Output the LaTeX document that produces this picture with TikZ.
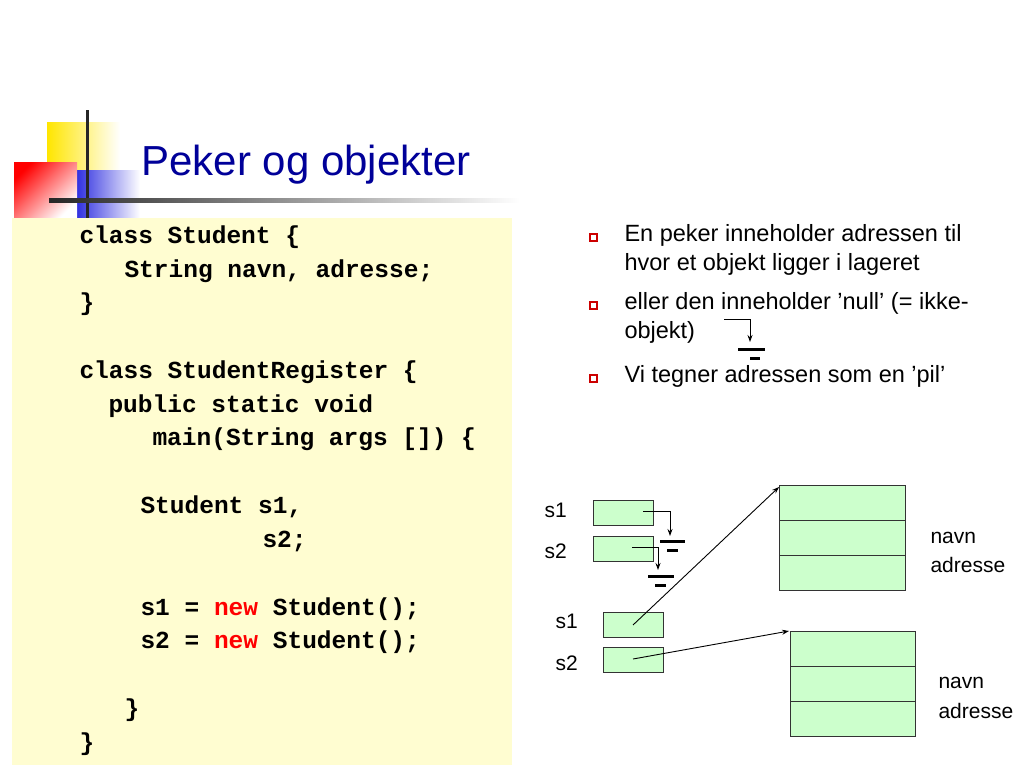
\documentclass[tikz,border=0pt]{standalone}
\usepackage{fontspec}
\usetikzlibrary{arrows.meta}
\setmainfont{Liberation Sans}
\newfontfamily\codefont{Liberation Mono}
\begin{document}
\begin{tikzpicture}[x=1pt,y=-1pt,
  cell/.style={draw=black!80,fill=green!20,line width=0.8pt},
  lbl/.style={anchor=base west,font=\fontsize{21}{24}\selectfont},
  code/.style={anchor=base west,font=\codefont\bfseries\fontsize{24.5}{28}\selectfont},
  bul/.style={anchor=base west,font=\fontsize{23.5}{28}\selectfont},
  bsq/.style={draw=red!80!black,fill=white,line width=1.2pt},
  ptr/.style={line width=0.9pt,-{Stealth[length=7pt,width=5pt]}},
  bar/.style={line width=3pt}]
\useasboundingbox (0,0) rectangle (1024,768);
\fill[white] (0,0) rectangle (1024,768);
% logo
\shade[left color=yellow!80!orange,right color=white] (47,122) rectangle (120,181);
\shade[left color=blue!85!black,right color=white] (62,170) rectangle (140,232);
\shade[top color=red,bottom color=white,shading angle=45] (14,162) rectangle (77,218);
\draw[line width=3pt,black!85] (87,110) -- (87,218);
\shade[left color=black!85,right color=white] (49,198.5) rectangle (520,202);
\node[anchor=base west,font=\fontsize{42}{48}\selectfont,text=blue!60!black] (title) at (138,175) {Peker og objekter};
% code panel
\fill[yellow!18] (12,218) rectangle (512,765);
\node[code] (c1) at (76,243) {class Student \{};
\node[code] (c2) at (121,277) {String navn, adresse;};
\node[code] (c3) at (76,310) {\}};
\node[code] (c4) at (76,378) {class StudentRegister \{};
\node[code] (c5) at (105,412) {public static void};
\node[code] (c6) at (149,445) {main(String args []) \{};
\node[code] (c7) at (137,513) {Student s1,};
\node[code] (c8) at (259,547) {s2;};
\node[code] (c9) at (137,615) {s1 = \textcolor{red}{new} Student();};
\node[code] (c10) at (137,648) {s2 = \textcolor{red}{new} Student();};
\node[code] (c11) at (121,716) {\}};
\node[code] (c12) at (76,750) {\}};
% bullets
\draw[bsq] (590,234) rectangle (597,241);
\draw[bsq] (590,302) rectangle (597,309);
\draw[bsq] (590,375) rectangle (597,382);
\node[bul] (b1) at (621,241) {En peker inneholder adressen til};
\node[bul] (b1b) at (621,270) {hvor et objekt ligger i lageret};
\node[bul] (b2) at (621,309) {eller den inneholder ’null’ (= ikke-};
\node[bul] (b2b) at (621,338) {objekt)};
\node[bul] (b3) at (621,382) {Vi tegner adressen som en ’pil’};
\coordinate (n0) at (724,319);
\coordinate (n0t) at (750,342);
\draw[ptr] (n0) -| (n0t);
\draw[bar] (738,349) -- (765,349);
\draw[bar] (750,358) -- (760,358);
% diagram
\node[lbl] (l1) at (541,517) {s1};
\node[lbl] (l2) at (541,558) {s2};
\node[lbl] (l3) at (552,628) {s1};
\node[lbl] (l4) at (552,670) {s2};
\draw[cell] (593,500) rectangle (653,525);
\draw[cell] (593,536) rectangle (653,561);
\draw[cell] (603,612) rectangle (663,637);
\draw[cell] (603,647) rectangle (663,672);
\coordinate (p1) at (643,511); \coordinate (p1t) at (670,536);
\draw[ptr] (p1) -| (p1t);
\draw[bar] (660,541) -- (685,541);
\draw[bar] (667,550) -- (678,550);
\coordinate (p2) at (632,547); \coordinate (p2t) at (658,570);
\draw[ptr] (p2) -| (p2t);
\draw[bar] (648,576) -- (674,576);
\draw[bar] (655,585) -- (666,585);
\foreach \y in {485,520,555} \draw[cell] (779,\y) rectangle (905,\y+35);
\foreach \y in {631,666,701} \draw[cell] (790,\y) rectangle (915,\y+35);
\coordinate (o1) at (779,487);
\coordinate (o2) at (789,631);
\coordinate (q1) at (633,625);
\coordinate (q2) at (633,659);
\draw[ptr] (q1) -- (o1);
\draw[ptr] (q2) -- (o2);
\node[lbl] (a1) at (927,543) {navn};
\node[lbl] (a2) at (927,572) {adresse};
\node[lbl] (a3) at (935,688) {navn};
\node[lbl] (a4) at (935,718) {adresse};
\end{tikzpicture}
\end{document}
